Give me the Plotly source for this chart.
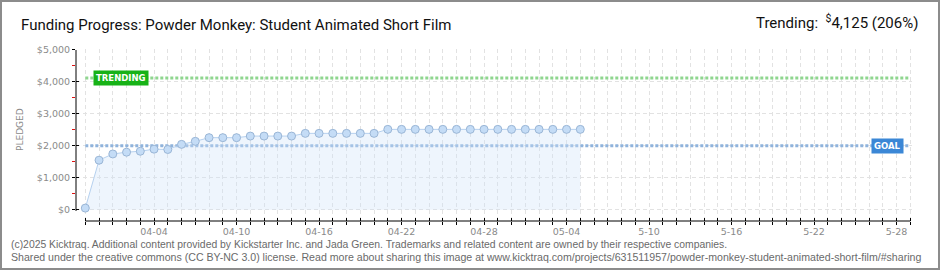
import plotly.graph_objects as go
import pandas as pd

# ---------------- data ----------------
dates = pd.date_range("2025-03-30", periods=37).strftime("%Y-%m-%d").tolist()
pledged = [50, 1550, 1745, 1800, 1830, 1895, 1885, 2045, 2140, 2255, 2255, 2255,
           2305, 2305, 2305, 2305, 2390, 2390, 2390, 2390, 2390, 2390,
           2515, 2515, 2515, 2515, 2515, 2515, 2515, 2515, 2515, 2515, 2515,
           2515, 2515, 2515, 2515]
goal = 2000
trending = 4125
trending_pct = 206

axis_days = pd.date_range("2025-03-30", "2025-05-29").strftime("%Y-%m-%d").tolist()
x_tick_labels = {"2025-04-04": "04-04", "2025-04-10": "04-10", "2025-04-16": "04-16",
                 "2025-04-22": "04-22", "2025-04-28": "04-28", "2025-05-04": "05-04",
                 "2025-05-10": "5-10", "2025-05-16": "5-16", "2025-05-22": "5-22",
                 "2025-05-28": "5-28"}
y_ticks = [0, 1000, 2000, 3000, 4000, 5000]
y_tick_labels = ["$0", "$1,000", "$2,000", "$3,000", "$4,000", "$5,000"]
y_minor = [500, 1500, 2500, 3500, 4500]

title = "Funding Progress: Powder Monkey: Student Animated Short Film"
footer1 = ("(c)2025 Kicktraq. Additional content provided by Kickstarter Inc. and Jada Green. "
           "Trademarks and related content are owned by their respective companies.")
footer2 = ("Shared under the creative commons (CC BY-NC 3.0) license. Read more about sharing this "
           "image at www.kicktraq.com/projects/631511957/powder-monkey-student-animated-short-film/#sharing")

# ---------------- layout geometry ----------------
W, H = 940, 270
L, R, T, B = 76, 28, 49, 49

def px(x):
    return (x - L) / (W - L - R)

def py(y):
    return (H - B - y) / (H - T - B)

x_start = pd.Timestamp(axis_days[0]) - pd.Timedelta(days=0.676)
x_end = pd.Timestamp(axis_days[-1]) + pd.Timedelta(days=0.124)
x_range = [x_start.strftime("%Y-%m-%d %H:%M:%S"), x_end.strftime("%Y-%m-%d %H:%M:%S")]
y_range = [-354, 5031]

ticktext = [x_tick_labels.get(d, "") for d in axis_days]

fig = go.Figure()

# trending & goal lines
fig.add_trace(go.Scatter(x=[axis_days[0], axis_days[-1]], y=[trending, trending], mode="lines",
                         line=dict(color="#8fd68f", width=3, dash="3px,2px"), hoverinfo="skip"))
fig.add_trace(go.Scatter(x=[axis_days[0], axis_days[-1]], y=[goal, goal], mode="lines",
                         line=dict(color="#8fb3dc", width=3, dash="3px,2px"), hoverinfo="skip"))

# pledged series
fig.add_trace(go.Scatter(x=dates, y=pledged, mode="lines+markers", fill="tozeroy",
                         fillcolor="rgba(205,226,250,0.35)",
                         line=dict(color="#b6d1ef", width=1),
                         marker=dict(size=8, color="#c4dcf6", line=dict(color="#9ab6d6", width=1))))

# invisible traces for overlay axes (crossing ticks)
fig.add_trace(go.Scatter(x=[axis_days[0]], y=[0], xaxis="x2", yaxis="y", mode="lines",
                         hoverinfo="skip"))
fig.add_trace(go.Scatter(x=[axis_days[0]], y=[0], xaxis="x", yaxis="y2", mode="lines",
                         hoverinfo="skip"))

tick_font = dict(family="DejaVu Sans", size=9.5, color="#8a8a8a")

fig.update_layout(
    width=W, height=H, margin=dict(l=L, r=R, t=T, b=B),
    paper_bgcolor="white", plot_bgcolor="white", showlegend=False,
    xaxis=dict(type="date", range=x_range, tickmode="array", tickvals=axis_days, ticktext=ticktext,
               ticks="outside", ticklen=3, tickcolor="black", tickwidth=1,
               showgrid=True, gridcolor="#e2e2e2", griddash="4px,3px", gridwidth=1,
               showline=False, zeroline=False, tickfont=tick_font, tickangle=0,
               ticklabelstandoff=-1),
    xaxis2=dict(type="date", range=x_range, overlaying="x", anchor="y", tickmode="array",
                tickvals=axis_days, showticklabels=False, ticks="inside", ticklen=3,
                tickcolor="black", showgrid=False, showline=False, zeroline=False),
    yaxis=dict(range=y_range, tickmode="array", tickvals=y_ticks, ticktext=y_tick_labels,
               ticks="outside", ticklen=3, tickcolor="black", showgrid=True, gridcolor="#e2e2e2",
               griddash="4px,3px", showline=False, zeroline=False,
               tickfont=dict(family="DejaVu Sans", size=9.5, color="#8a8a8a"),
               minor=dict(tickmode="array", tickvals=y_minor, ticks="outside", ticklen=3,
                          tickcolor="#e01010", showgrid=False)),
    yaxis2=dict(range=y_range, overlaying="y", anchor="x", tickmode="array", tickvals=y_ticks,
                showticklabels=False, ticks="inside", ticklen=3, tickcolor="black",
                showgrid=False, showline=False, zeroline=False),
)

shapes = [
    dict(type="line", xref="paper", yref="y", x0=0, x1=0, y0=-40, y1=5000,
         line=dict(color="black", width=1)),
    dict(type="line", xref="x", yref="paper", x0=axis_days[0], x1=axis_days[-1], y0=0, y1=0,
         line=dict(color="black", width=1)),
    dict(type="rect", xref="paper", yref="paper", x0=px(1), x1=px(939), y0=py(1), y1=py(269),
         line=dict(color="#8c8c8c", width=2)),
]
fig.update_layout(shapes=shapes)

annotations = [
    dict(text=title, xref="paper", yref="paper", x=px(19), y=py(25), xanchor="left",
         yanchor="middle", showarrow=False, font=dict(family="Roboto", size=15, color="#111")),
    dict(text="Trending:  <sup>$</sup>%s (%d%%)" % (f"{trending:,}", trending_pct),
         xref="paper", yref="paper", x=px(920), y=py(22), xanchor="right", yanchor="middle",
         showarrow=False, font=dict(family="Roboto", size=15, color="#111")),
    dict(text=footer1, xref="paper", yref="paper", x=px(9), y=py(244), xanchor="left",
         yanchor="middle", showarrow=False,
         font=dict(family="Liberation Sans", size=10.4, color="#6a6a6a")),
    dict(text=footer2, xref="paper", yref="paper", x=px(9), y=py(257), xanchor="left",
         yanchor="middle", showarrow=False,
         font=dict(family="Liberation Sans", size=10.6, color="#6a6a6a")),
    dict(text="PLEDGED", xref="paper", yref="paper", x=px(20), y=py(130), textangle=-90,
         xanchor="center", yanchor="middle", showarrow=False,
         font=dict(family="DejaVu Sans", size=9, color="#8a8a8a")),
    dict(text="<b>TRENDING</b>", xref="x", yref="y", x=axis_days[0], y=trending, xanchor="left",
         yanchor="middle", xshift=8, showarrow=False, bgcolor="#17b217", borderpad=2,
         font=dict(family="DejaVu Sans", size=8.5, color="white")),
    dict(text="<b>GOAL</b>", xref="x", yref="y", x=axis_days[-1], y=goal, xanchor="right",
         yanchor="middle", xshift=-6, showarrow=False, bgcolor="#3b87d6", borderpad=2,
         font=dict(family="DejaVu Sans", size=8.5, color="white")),
]
fig.update_layout(annotations=annotations)

fig.write_html("out.html")
